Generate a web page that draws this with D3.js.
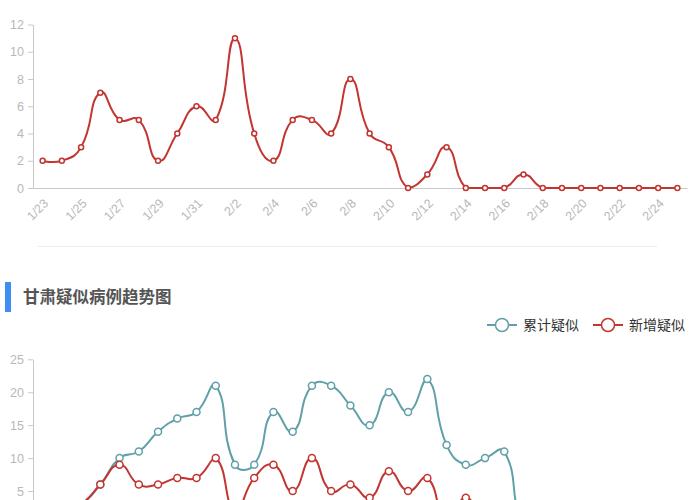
<!DOCTYPE html>
<html>
<head>
<meta charset="utf-8">
<script src="https://cdn.jsdelivr.net/npm/d3@7/dist/d3.min.js"></script>
<style>
  html, body { margin: 0; padding: 0; background: #fff; }
  svg { display: block; }
  .tick text { font-family: "Liberation Sans", "Noto Sans", sans-serif; }
</style>
</head>
<body>
<div id="chart"></div>
<script>
var dates = ["1/23", "1/24", "1/25", "1/26", "1/27", "1/28", "1/29", "1/30", "1/31",
  "2/1", "2/2", "2/3", "2/4", "2/5", "2/6", "2/7", "2/8", "2/9", "2/10",
  "2/11", "2/12", "2/13", "2/14", "2/15", "2/16", "2/17", "2/18", "2/19", "2/20",
  "2/21", "2/22", "2/23", "2/24", "2/25"];

// top chart (single series)
var topValues = [2, 2, 3, 7, 5, 5, 2, 4, 6,
  5, 11, 4, 2, 5, 5, 4, 8, 4, 3,
  0, 1, 3, 0, 0, 0, 1, 0, 0, 0,
  0, 0, 0, 0, 0];
var topTicks = [0, 2, 4, 6, 8, 10, 12];

// 甘肃疑似病例趋势图
var seriesNames = ["累计疑似", "新增疑似"];
var cumSuspect = [1, 2, 3, 6, 10, 11, 14, 16, 17,
  21, 9, 9, 17, 14, 21, 21, 18, 15, 20,
  17, 22, 12, 9, 10, 11, 0, 0, 0, 0,
  0, 0, 0, 0, 0];
var newSuspect = [1, 2, 3, 6, 9, 6, 6, 7, 7,
  10, 2, 7, 9, 5, 10, 5, 6, 4, 8,
  5, 7, 0, 4, 0, 0, 0, 0, 0, 0,
  0, 0, 0, 0, 0];
// only the ticks that fall inside the 500px window
var gsTicks = [5, 10, 15, 20, 25];

var RED = "#c23531";
var TEAL = "#61a0a8";
var AXIS = "#c8c8c8";
var LABEL = "#b8b8b8";

var width = 700;
var height = 500;

var svg = d3
  .select("#chart")
  .append("svg")
  .attr("width", width)
  .attr("height", height);

// echarts-like smooth bezier, control points clamped to the points' box
function smoothCurve(context) {
  return {
    pts: [],
    areaStart: function() {},
    areaEnd: function() {},
    lineStart: function() {
      this.pts = [];
    },
    point: function(x, y) {
      this.pts.push([+x, +y]);
    },
    lineEnd: function() {
      var p = this.pts,
        n = p.length;
      if (!n) return;
      var minX = d3.min(p, d => d[0]),
        maxX = d3.max(p, d => d[0]),
        minY = d3.min(p, d => d[1]),
        maxY = d3.max(p, d => d[1]);
      var clamp = function(c) {
        return [
          Math.max(minX, Math.min(maxX, c[0])),
          Math.max(minY, Math.min(maxY, c[1]))
        ];
      };
      var cps = [];
      for (var i = 0; i < n; i++) {
        if (i === 0 || i === n - 1) {
          cps.push(p[i].slice());
          continue;
        }
        var prev = p[i - 1],
          next = p[i + 1];
        var vx = (next[0] - prev[0]) * 0.5,
          vy = (next[1] - prev[1]) * 0.5;
        var d0 = Math.hypot(p[i][0] - prev[0], p[i][1] - prev[1]);
        var d1 = Math.hypot(p[i][0] - next[0], p[i][1] - next[1]);
        var sum = d0 + d1;
        if (sum !== 0) {
          d0 /= sum;
          d1 /= sum;
        }
        cps.push(clamp([p[i][0] - vx * d0, p[i][1] - vy * d0]));
        cps.push(clamp([p[i][0] + vx * d1, p[i][1] + vy * d1]));
      }
      context.moveTo(p[0][0], p[0][1]);
      for (var j = 0; j < n - 1; j++) {
        var c1 = cps[2 * j],
          c2 = cps[2 * j + 1];
        context.bezierCurveTo(c1[0], c1[1], c2[0], c2[1], p[j + 1][0], p[j + 1][1]);
      }
    }
  };
}

var x = d3
  .scalePoint()
  .domain(dates)
  .range([33, 687])
  .padding(0.5);

function drawAxes(g, y, ticks, showX) {
  var yAxis = d3
    .axisLeft(y)
    .tickValues(ticks)
    .tickSize(5)
    .tickSizeOuter(0)
    .tickPadding(4);
  var ya = g
    .append("g")
    .attr("transform", "translate(33,0)")
    .call(yAxis);
  ya.selectAll("path, line").attr("stroke", AXIS);
  ya.selectAll("text").attr("fill", LABEL).style("font-size", "12.5px");

  var xAxis = d3
    .axisBottom(x)
    .tickValues(showX ? dates.filter((d, i) => i % 2 === 0) : [])
    .tickSize(0)
    .tickSizeOuter(0);
  var xa = g
    .append("g")
    .attr("transform", "translate(0," + y(0) + ")")
    .call(xAxis);
  xa.select(".domain").attr("stroke", AXIS);
  xa.selectAll("text")
    .attr("fill", LABEL)
    .style("font-size", "12.5px")
    .attr("text-anchor", "end")
    .attr("x", 0)
    .attr("y", 0)
    .attr("dy", "0.35em")
    .attr("transform", "translate(3,13) rotate(-45)");
}

function drawSeries(g, y, values, color, r) {
  var line = d3
    .line()
    .x((d, i) => x(dates[i]))
    .y(d => y(d))
    .curve(smoothCurve);

  g.append("path")
    .datum(values)
    .attr("fill", "none")
    .attr("stroke", color)
    .attr("stroke-width", 2)
    .attr("d", line);

  g.selectAll(null)
    .data(values)
    .enter()
    .append("circle")
    .attr("cx", (d, i) => x(dates[i]))
    .attr("cy", d => y(d))
    .attr("r", r)
    .attr("fill", "#fff")
    .attr("stroke", color)
    .attr("stroke-width", 1.5);
}

// ---- top chart ----
var yTop = d3
  .scaleLinear()
  .domain([0, 12])
  .range([188, 24.5]);

var gTop = svg.append("g");
drawAxes(gTop, yTop, topTicks, true);
drawSeries(gTop, yTop, topValues, RED, 2.5);

// separator
svg
  .append("line")
  .attr("x1", 38)
  .attr("x2", 657)
  .attr("y1", 246.5)
  .attr("y2", 246.5)
  .attr("stroke", "#ececec")
  .attr("stroke-width", 1);

// ---- title ----
svg
  .append("rect")
  .attr("x", 5)
  .attr("y", 282)
  .attr("width", 6)
  .attr("height", 30)
  .attr("fill", "#3d8ef0");

svg
  .append("text")
  .attr("x", 23)
  .attr("y", 303)
  .attr("fill", "#555")
  .style("font-family", '"Noto Sans CJK SC", sans-serif')
  .style("font-size", "16.5px")
  .style("font-weight", "bold")
  .text("甘肃疑似病例趋势图");

// ---- legend ----
var legendColors = [TEAL, RED];
var legendX = [487, 593];
var legend = svg
  .selectAll(".legend")
  .data(seriesNames)
  .enter()
  .append("g")
  .attr("class", "legend")
  .attr("transform", (d, i) => "translate(" + legendX[i] + ",325)");

legend
  .append("line")
  .attr("x1", 0)
  .attr("x2", 30)
  .attr("stroke", (d, i) => legendColors[i])
  .attr("stroke-width", 2);

legend
  .append("circle")
  .attr("cx", 15)
  .attr("r", 6.5)
  .attr("fill", "#fff")
  .attr("stroke", (d, i) => legendColors[i])
  .attr("stroke-width", 1.5);

legend
  .append("text")
  .attr("x", 36)
  .attr("dy", "0.35em")
  .attr("fill", "#333")
  .style("font-family", '"Noto Sans CJK SC", sans-serif')
  .style("font-size", "14px")
  .text(d => d);

// ---- 甘肃 chart (its x axis sits below the window) ----
var yGs = d3
  .scaleLinear()
  .domain([0, 25])
  .range([524, 359.3]);

var gGs = svg.append("g");
drawAxes(gGs, yGs, gsTicks, false);
drawSeries(gGs, yGs, cumSuspect, TEAL, 3.5);
drawSeries(gGs, yGs, newSuspect, RED, 3.5);
</script>
</body>
</html>
